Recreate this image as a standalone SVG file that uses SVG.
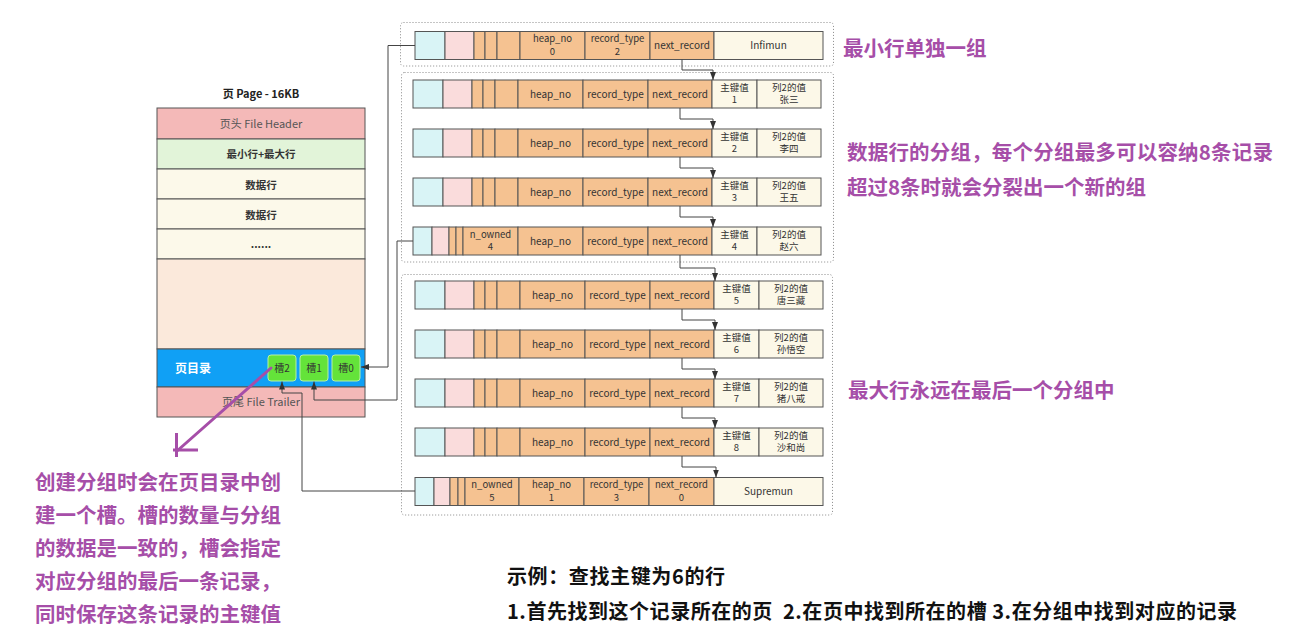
<svg xmlns="http://www.w3.org/2000/svg" xmlns:xlink="http://www.w3.org/1999/xlink" width="1292" height="642" viewBox="0 0 1292 642">
  <style>
    .cy { fill: #d9f4f6; stroke: #555; stroke-width: 1; }
    .pk { fill: #fadcdc; stroke: #555; stroke-width: 1; }
    .or { fill: #f5c291; stroke: #555; stroke-width: 1; }
    .cr { fill: #fcf8e8; stroke: #555; stroke-width: 1; }
    .grp { fill: none; stroke: #8a8a8a; stroke-width: 1; stroke-dasharray: 1 2; }
    .t { font-family: "Noto Sans CJK SC", "Noto Sans", sans-serif; font-size: 10px; fill: #333; text-anchor: middle; }
    .t2 { font-family: "Noto Sans CJK SC", "Noto Sans", sans-serif; font-size: 9.5px; fill: #333; text-anchor: middle; }
    .pg { stroke: #555; stroke-width: 1; }
    .pt { font-family: "Noto Sans CJK SC", "Noto Sans", sans-serif; font-size: 10.5px; fill: #333; text-anchor: middle; font-weight: bold; }
    .slot { fill: #64e33a; stroke: #b8f0a4; stroke-width: 1; }
    .conn { fill: none; stroke: #444; stroke-width: 1; }
    .note { font-family: "Noto Sans CJK SC", sans-serif; font-size: 20.5px; font-weight: bold; fill: #a64ea8; }
    .ex { font-family: "Noto Sans CJK SC", sans-serif; font-size: 20px; font-weight: bold; fill: #111; }
  </style>
  <defs>
    <marker id="ah" viewBox="0 0 8 6" refX="8" refY="3" markerWidth="8" markerHeight="6" orient="auto" markerUnits="userSpaceOnUse">
      <path d="M0,0 L8,3 L0,6 z" fill="#333"/>
    </marker>
    <!-- record header cells, plain data row -->
    <g id="cells-reg">
      <rect class="cy" x="0" y="0" width="30" height="28"/>
      <rect class="pk" x="30" y="0" width="29" height="28"/>
      <rect class="or" x="59" y="0" width="11" height="28"/>
      <rect class="or" x="70" y="0" width="12" height="28"/>
      <rect class="or" x="82" y="0" width="23" height="28"/>
      <rect class="or" x="105" y="0" width="65" height="28"/>
      <rect class="or" x="170" y="0" width="65" height="28"/>
      <rect class="or" x="235" y="0" width="64" height="28"/>
      <rect class="cr" x="299" y="0" width="45" height="28"/>
      <rect class="cr" x="344" y="0" width="64" height="28"/>
    </g>
    <!-- infimum row -->
    <g id="cells-inf">
      <rect class="cy" x="0" y="0" width="30" height="28"/>
      <rect class="pk" x="30" y="0" width="29" height="28"/>
      <rect class="or" x="59" y="0" width="11" height="28"/>
      <rect class="or" x="70" y="0" width="12" height="28"/>
      <rect class="or" x="82" y="0" width="23" height="28"/>
      <rect class="or" x="105" y="0" width="65" height="28"/>
      <rect class="or" x="170" y="0" width="65" height="28"/>
      <rect class="or" x="235" y="0" width="64" height="28"/>
      <rect class="cr" x="299" y="0" width="109" height="28"/>
    </g>
    <!-- last row of a group, carries n_owned -->
    <g id="cells-own">
      <rect class="cy" x="0" y="0" width="19" height="28"/>
      <rect class="pk" x="19" y="0" width="17" height="28"/>
      <rect class="or" x="36" y="0" width="7" height="28"/>
      <rect class="or" x="43" y="0" width="7" height="28"/>
      <rect class="or" x="50" y="0" width="55" height="28"/>
      <rect class="or" x="105" y="0" width="65" height="28"/>
      <rect class="or" x="170" y="0" width="65" height="28"/>
      <rect class="or" x="235" y="0" width="64" height="28"/>
      <rect class="cr" x="299" y="0" width="45" height="28"/>
      <rect class="cr" x="344" y="0" width="64" height="28"/>
    </g>
    <!-- supremum row -->
    <g id="cells-sup">
      <rect class="cy" x="0" y="0" width="19" height="28"/>
      <rect class="pk" x="19" y="0" width="16" height="28"/>
      <rect class="or" x="35" y="0" width="8" height="28"/>
      <rect class="or" x="43" y="0" width="7" height="28"/>
      <rect class="or" x="50" y="0" width="54" height="28"/>
      <rect class="or" x="104" y="0" width="65" height="28"/>
      <rect class="or" x="169" y="0" width="65" height="28"/>
      <rect class="or" x="234" y="0" width="65" height="28"/>
      <rect class="cr" x="299" y="0" width="109" height="28"/>
    </g>
  </defs>

  <rect x="0" y="0" width="1292" height="642" fill="#ffffff"/>

  <!-- page layout -->
  <g id="page">
    <text class="pt" x="261" y="98" style="font-size:11px;fill:#222">页 Page - 16KB</text>
    <rect class="pg" x="157" y="108" width="208" height="31" fill="#f4b9b8"/>
    <text class="t" x="261" y="128" style="font-size:11px;fill:#555">页头 File Header</text>
    <rect class="pg" x="157" y="139" width="208" height="30" fill="#e2f4d9"/>
    <text class="pt" x="261" y="158">最小行+最大行</text>
    <rect class="pg" x="157" y="169" width="208" height="30" fill="#fcf9ea"/>
    <text class="pt" x="261" y="189">数据行</text>
    <rect class="pg" x="157" y="199" width="208" height="30" fill="#fcf9ea"/>
    <text class="pt" x="261" y="219">数据行</text>
    <rect class="pg" x="157" y="229" width="208" height="30" fill="#fcf9ea"/>
    <text class="pt" x="261" y="248">......</text>
    <rect class="pg" x="157" y="259" width="208" height="90" fill="#fbe9db"/>
    <rect class="pg" x="157" y="349" width="208" height="38" fill="#10a0f5"/>
    <text class="pt" x="175" y="373" style="font-size:12px;fill:#fff;text-anchor:start">页目录</text>
    <rect class="pg" x="157" y="387" width="208" height="30" fill="#f4b9b8"/>
    <text class="t" x="261" y="406" style="font-size:11px;fill:#555">页尾 File Trailer</text>
  </g>
  <g id="slot-2">
    <rect class="slot" x="268" y="355" width="28" height="26" rx="3"/>
    <text class="t" x="282" y="372">槽2</text>
  </g>
  <g id="slot-1">
    <rect class="slot" x="300" y="355" width="28" height="26" rx="3"/>
    <text class="t" x="314" y="372">槽1</text>
  </g>
  <g id="slot-0">
    <rect class="slot" x="332" y="355" width="28" height="26" rx="3"/>
    <text class="t" x="346" y="372">槽0</text>
  </g>

  <!-- record groups -->
  <g id="group-min"><rect class="grp" x="400.5" y="22.5" width="433" height="43.5" rx="3"/></g>
  <g id="group-data"><rect class="grp" x="401.5" y="72.5" width="432" height="189.5" rx="3"/></g>
  <g id="group-max"><rect class="grp" x="401.5" y="274.5" width="431" height="240.5" rx="3"/></g>

  <g id="rec-infimum" transform="translate(415,31.5)">
    <use xlink:href="#cells-inf"/>
    <text class="t2" x="137.5" y="10.5">heap_no</text><text class="t2" x="137.5" y="23">0</text>
    <text class="t2" x="202.5" y="10.5">record_type</text><text class="t2" x="202.5" y="23">2</text>
    <text class="t" x="267" y="17.5">next_record</text>
    <text class="t" x="353.5" y="17.5">Infimun</text>
  </g>

  <g id="rec-1" transform="translate(413,80)">
    <use xlink:href="#cells-reg"/>
    <text class="t" x="137.5" y="17.5">heap_no</text>
    <text class="t" x="202.5" y="17.5">record_type</text>
    <text class="t" x="267" y="17.5">next_record</text>
    <text class="t2" x="321.5" y="10.5">主键值</text><text class="t2" x="321.5" y="23">1</text>
    <text class="t2" x="376" y="10.5">列2的值</text><text class="t2" x="376" y="23">张三</text>
  </g>
  <g id="rec-2" transform="translate(413,129)">
    <use xlink:href="#cells-reg"/>
    <text class="t" x="137.5" y="17.5">heap_no</text>
    <text class="t" x="202.5" y="17.5">record_type</text>
    <text class="t" x="267" y="17.5">next_record</text>
    <text class="t2" x="321.5" y="10.5">主键值</text><text class="t2" x="321.5" y="23">2</text>
    <text class="t2" x="376" y="10.5">列2的值</text><text class="t2" x="376" y="23">李四</text>
  </g>
  <g id="rec-3" transform="translate(413,178)">
    <use xlink:href="#cells-reg"/>
    <text class="t" x="137.5" y="17.5">heap_no</text>
    <text class="t" x="202.5" y="17.5">record_type</text>
    <text class="t" x="267" y="17.5">next_record</text>
    <text class="t2" x="321.5" y="10.5">主键值</text><text class="t2" x="321.5" y="23">3</text>
    <text class="t2" x="376" y="10.5">列2的值</text><text class="t2" x="376" y="23">王五</text>
  </g>
  <g id="rec-4" transform="translate(413,227)">
    <use xlink:href="#cells-own"/>
    <text class="t2" x="77.5" y="10.5">n_owned</text><text class="t2" x="77.5" y="23">4</text>
    <text class="t" x="137.5" y="17.5">heap_no</text>
    <text class="t" x="202.5" y="17.5">record_type</text>
    <text class="t" x="267" y="17.5">next_record</text>
    <text class="t2" x="321.5" y="10.5">主键值</text><text class="t2" x="321.5" y="23">4</text>
    <text class="t2" x="376" y="10.5">列2的值</text><text class="t2" x="376" y="23">赵六</text>
  </g>

  <g id="rec-5" transform="translate(415,281)">
    <use xlink:href="#cells-reg"/>
    <text class="t" x="137.5" y="17.5">heap_no</text>
    <text class="t" x="202.5" y="17.5">record_type</text>
    <text class="t" x="267" y="17.5">next_record</text>
    <text class="t2" x="321.5" y="10.5">主键值</text><text class="t2" x="321.5" y="23">5</text>
    <text class="t2" x="376" y="10.5">列2的值</text><text class="t2" x="376" y="23">唐三藏</text>
  </g>
  <g id="rec-6" transform="translate(415,330)">
    <use xlink:href="#cells-reg"/>
    <text class="t" x="137.5" y="17.5">heap_no</text>
    <text class="t" x="202.5" y="17.5">record_type</text>
    <text class="t" x="267" y="17.5">next_record</text>
    <text class="t2" x="321.5" y="10.5">主键值</text><text class="t2" x="321.5" y="23">6</text>
    <text class="t2" x="376" y="10.5">列2的值</text><text class="t2" x="376" y="23">孙悟空</text>
  </g>
  <g id="rec-7" transform="translate(415,379)">
    <use xlink:href="#cells-reg"/>
    <text class="t" x="137.5" y="17.5">heap_no</text>
    <text class="t" x="202.5" y="17.5">record_type</text>
    <text class="t" x="267" y="17.5">next_record</text>
    <text class="t2" x="321.5" y="10.5">主键值</text><text class="t2" x="321.5" y="23">7</text>
    <text class="t2" x="376" y="10.5">列2的值</text><text class="t2" x="376" y="23">猪八戒</text>
  </g>
  <g id="rec-8" transform="translate(415,428)">
    <use xlink:href="#cells-reg"/>
    <text class="t" x="137.5" y="17.5">heap_no</text>
    <text class="t" x="202.5" y="17.5">record_type</text>
    <text class="t" x="267" y="17.5">next_record</text>
    <text class="t2" x="321.5" y="10.5">主键值</text><text class="t2" x="321.5" y="23">8</text>
    <text class="t2" x="376" y="10.5">列2的值</text><text class="t2" x="376" y="23">沙和尚</text>
  </g>
  <g id="rec-supremum" transform="translate(415,477.5)">
    <use xlink:href="#cells-sup"/>
    <text class="t2" x="77" y="10.5">n_owned</text><text class="t2" x="77" y="23">5</text>
    <text class="t2" x="136.5" y="10.5">heap_no</text><text class="t2" x="136.5" y="23">1</text>
    <text class="t2" x="201.5" y="10.5">record_type</text><text class="t2" x="201.5" y="23">3</text>
    <text class="t2" x="266.5" y="10.5">next_record</text><text class="t2" x="266.5" y="23">0</text>
    <text class="t" x="353.5" y="17.5">Supremun</text>
  </g>

  <!-- connectors -->
  <g id="connectors">
    <path class="conn" d="M682,59.5 V70 H713 V80" marker-end="url(#ah)"/>
    <path class="conn" d="M680,108 V119 H713 V129" marker-end="url(#ah)"/>
    <path class="conn" d="M680,157 V168 H713 V178" marker-end="url(#ah)"/>
    <path class="conn" d="M680,206 V217 H713 V227" marker-end="url(#ah)"/>
    <path class="conn" d="M680,255 V268 H715 V281" marker-end="url(#ah)"/>
    <path class="conn" d="M682,309 V320 H715 V330" marker-end="url(#ah)"/>
    <path class="conn" d="M682,358 V369 H715 V379" marker-end="url(#ah)"/>
    <path class="conn" d="M682,407 V418 H715 V428" marker-end="url(#ah)"/>
    <path class="conn" d="M682,456 V467 H716 V477.5" marker-end="url(#ah)"/>
    <path class="conn" d="M415,45.5 H388 V367 H361" marker-end="url(#ah)"/>
    <path class="conn" d="M413,241 H397 V400 H314 V381.5" marker-end="url(#ah)"/>
    <path class="conn" d="M415,491 H302 V393 H282 V381.5" marker-end="url(#ah)"/>
    <!-- hand-drawn pointer from slot 2 to the note -->
    <path d="M271,368 L177,451" fill="none" stroke="#a64ea8" stroke-width="3" stroke-linecap="round"/>
    <path d="M176.5,433 V457 M173,450 H198" fill="none" stroke="#a64ea8" stroke-width="3"/>
  </g>

  <!-- notes -->
  <g id="notes">
    <text class="note" x="843" y="56">最小行单独一组</text>
    <text class="note" x="847" y="160" textLength="426" lengthAdjust="spacing">数据行的分组，每个分组最多可以容纳8条记录</text>
    <text class="note" x="847" y="195">超过8条时就会分裂出一个新的组</text>
    <text class="note" x="848" y="398">最大行永远在最后一个分组中</text>
    <text class="note" x="35" y="490">创建分组时会在页目录中创</text>
    <text class="note" x="35" y="523">建一个槽。槽的数量与分组</text>
    <text class="note" x="35" y="556">的数据是一致的，槽会指定</text>
    <text class="note" x="35" y="589">对应分组的最后一条记录，</text>
    <text class="note" x="35" y="622">同时保存这条记录的主键值</text>
    <text class="ex" x="507" y="584" textLength="218" lengthAdjust="spacing">示例：查找主键为6的行</text>
    <text class="ex" x="507" y="619" textLength="730" lengthAdjust="spacing" xml:space="preserve">1.首先找到这个记录所在的页  2.在页中找到所在的槽 3.在分组中找到对应的记录</text>
  </g>
</svg>
